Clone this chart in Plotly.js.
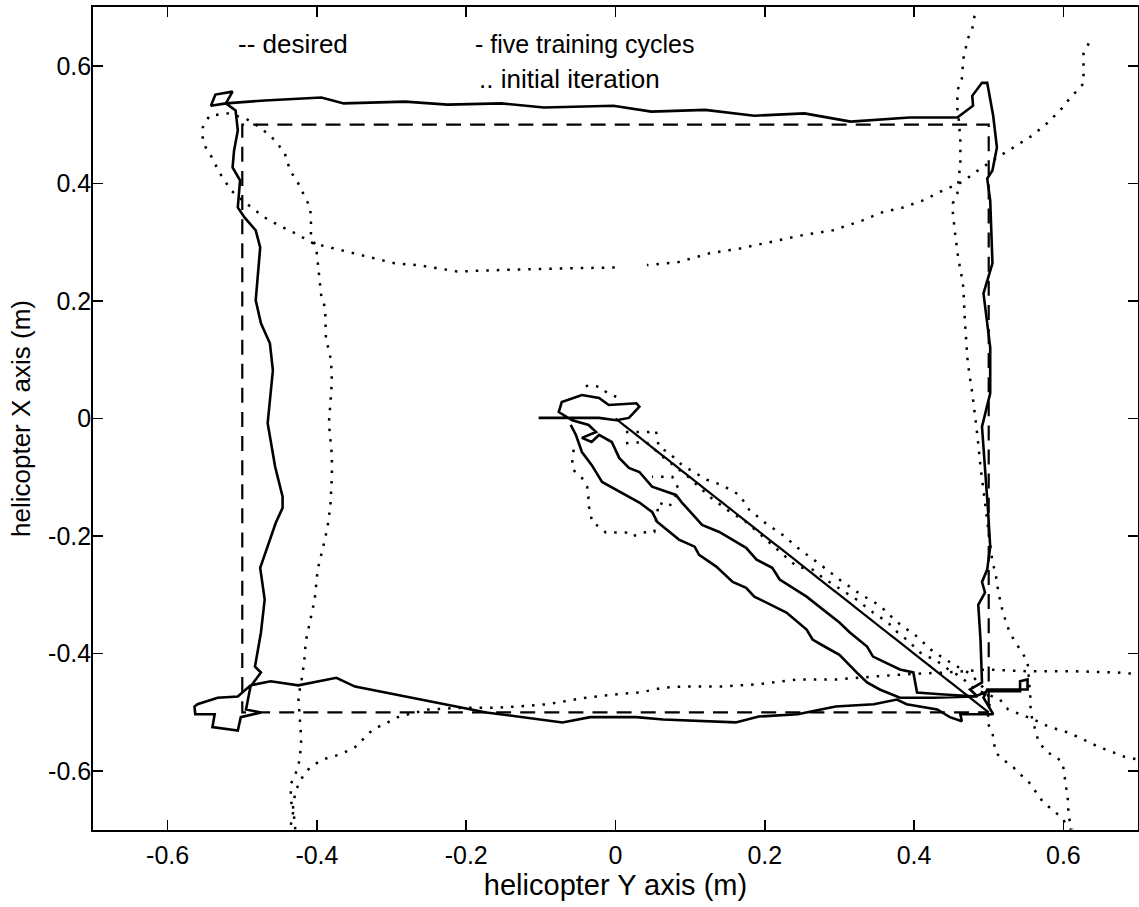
<!DOCTYPE html>
<html>
<head>
<meta charset="utf-8">
<script src="https://cdn.plot.ly/plotly-3.0.1.min.js"></script>
<style>html,body{margin:0;padding:0;background:#fff;}#chart{width:1139px;height:907px;}</style>
</head>
<body>
<div id="chart"></div>
<script>
// ---- data (helicopter X/Y positions, metres) ----
const tickVals = [-0.6, -0.4, -0.2, 0, 0.2, 0.4, 0.6];
const tickText = ["-0.6", "-0.4", "-0.2", "0", "0.2", "0.4", "0.6"];

// desired trajectory (dashed)
const desiredX = [0, 0.5, 0.5, -0.5, -0.5, 0.5, 0];
const desiredY = [0, -0.5, 0.5, 0.5, -0.5, -0.5, 0];

// five training cycles (solid)
const solidX = [-0.103,-0.058,-0.022,0.001,0.018,0.032,0.028,-0.009,-0.022,-0.045,
-0.072,-0.076,-0.058,-0.036,-0.026,-0.045,-0.032,-0.022,-0.005,0.005,
0.018,0.032,0.049,0.081,0.089,0.116,0.139,0.175,0.189,0.210,
0.220,0.256,0.300,0.314,0.337,0.345,0.381,0.399,0.404,0.435,
0.479,0.485,0.475,0.491,0.489,0.486,0.495,0.491,0.498,0.502,
0.499,0.491,0.502,0.502,0.493,0.505,0.502,0.498,0.505,0.511,
0.506,0.502,0.498,0.491,0.478,0.479,0.458,0.394,0.315,0.253,
0.186,0.120,0.048,-0.003,-0.096,-0.153,-0.225,-0.282,-0.364,-0.394,
-0.425,-0.470,-0.522,-0.542,-0.536,-0.513,-0.522,-0.509,-0.506,-0.511,
-0.513,-0.503,-0.506,-0.497,-0.482,-0.476,-0.482,-0.475,-0.463,-0.459,
-0.466,-0.456,-0.446,-0.446,-0.455,-0.476,-0.470,-0.475,-0.483,-0.475,
-0.489,-0.495,-0.475,-0.502,-0.506,-0.540,-0.537,-0.563,-0.564,-0.560,
-0.533,-0.506,-0.489,-0.462,-0.425,-0.374,-0.349,-0.271,-0.173,-0.071,
-0.034,0.028,0.064,0.161,0.192,0.244,0.295,0.346,0.377,0.390,
0.431,0.448,0.464,0.462,0.493,0.506,0.493,0.498,0.552,0.552,
0.542,0.542,0.498,0.482,0.425,0.381,0.354,0.337,0.323,0.300,
0.283,0.264,0.256,0.229,0.186,0.175,0.157,0.135,0.112,0.106,
0.085,0.056,0.049,0.032,-0.018,-0.032,-0.045,-0.053,-0.060];
const solidY = [0.001,0.001,0.001,-0.003,0.001,0.020,0.026,0.023,0.035,0.040,
0.028,0.011,-0.003,-0.011,-0.023,-0.033,-0.040,-0.028,-0.040,-0.067,
-0.084,-0.091,-0.116,-0.130,-0.143,-0.181,-0.193,-0.220,-0.240,-0.254,
-0.274,-0.303,-0.347,-0.364,-0.388,-0.405,-0.427,-0.432,-0.466,-0.469,
-0.473,-0.473,-0.461,-0.449,-0.376,-0.317,-0.296,-0.278,-0.257,-0.218,
-0.155,-0.014,0.043,0.121,0.213,0.264,0.371,0.408,0.422,0.461,
0.515,0.546,0.571,0.571,0.549,0.532,0.512,0.512,0.505,0.519,
0.515,0.525,0.522,0.532,0.529,0.536,0.534,0.539,0.536,0.546,
0.544,0.541,0.536,0.532,0.551,0.556,0.536,0.524,0.490,0.456,
0.427,0.405,0.359,0.342,0.320,0.291,0.201,0.162,0.128,0.082,
-0.008,-0.082,-0.133,-0.152,-0.177,-0.254,-0.308,-0.364,-0.422,-0.432,
-0.456,-0.495,-0.500,-0.508,-0.531,-0.525,-0.503,-0.503,-0.490,-0.486,
-0.475,-0.473,-0.454,-0.447,-0.454,-0.441,-0.456,-0.475,-0.500,-0.517,
-0.508,-0.508,-0.512,-0.517,-0.507,-0.503,-0.490,-0.486,-0.478,-0.486,
-0.495,-0.508,-0.515,-0.503,-0.503,-0.503,-0.475,-0.461,-0.461,-0.444,
-0.447,-0.464,-0.464,-0.473,-0.475,-0.475,-0.461,-0.449,-0.432,-0.402,
-0.390,-0.376,-0.359,-0.330,-0.303,-0.288,-0.278,-0.252,-0.232,-0.218,
-0.206,-0.176,-0.159,-0.143,-0.108,-0.079,-0.057,-0.028,-0.011];

// initial iteration (dotted); null separates the visible pieces
const initialX = [
0.634,0.627,0.627,0.627,0.627,0.607,0.599,0.579,0.558,0.533,0.515,0.489,0.464,0.439,0.412,0.385,0.358,0.331,0.291,0.251,0.208,0.166,0.126,0.084,0.042,null,
-0.001,-0.065,-0.116,-0.169,-0.212,-0.240,-0.265,-0.296,-0.322,-0.351,-0.377,-0.405,-0.429,-0.452,-0.470,-0.497,-0.515,-0.530,-0.542,-0.549,-0.553,-0.553,-0.544,-0.519,-0.495,-0.476,-0.456,-0.443,-0.436,-0.425,-0.417,-0.409,-0.408,-0.408,-0.401,-0.399,-0.397,-0.394,-0.389,-0.388,-0.381,-0.380,-0.382,-0.384,-0.380,-0.380,-0.382,-0.386,-0.392,-0.399,-0.403,-0.409,-0.415,-0.417,-0.421,-0.425,-0.423,-0.421,-0.423,-0.428,-0.435,-0.435,-0.432,-0.436,null,
0.481,0.478,0.472,0.466,0.464,0.459,0.458,0.458,0.460,0.462,0.462,0.458,0.452,0.452,0.455,0.459,0.464,0.466,0.468,0.472,0.478,0.482,0.485,0.489,0.493,0.498,0.499,0.505,0.509,0.513,0.519,0.528,0.536,0.552,0.553,0.556,0.556,0.560,0.567,0.579,0.589,0.599,0.603,0.606,0.607,0.612,null,
-0.429,-0.432,-0.429,-0.423,-0.415,-0.408,-0.392,-0.368,-0.349,-0.338,-0.325,-0.302,-0.290,-0.251,-0.204,-0.163,-0.132,-0.091,-0.065,-0.040,0.002,0.033,0.064,0.089,0.140,0.192,0.244,0.295,0.346,0.390,0.444,0.498,0.552,0.614,0.673,0.700,null,
0.001,-0.011,-0.019,-0.033,-0.049,null,
-0.056,-0.058,-0.057,-0.045,-0.038,-0.036,-0.038,-0.033,-0.032,-0.022,-0.013,0.001,0.014,0.022,0.036,0.052,0.054,0.058,0.072,0.085,0.076,0.058,0.049,null,
0.014,0.032,0.045,0.054,0.058,0.072,0.089,0.122,0.142,0.166,0.179,0.202,0.224,0.247,0.276,0.300,0.327,0.354,0.377,0.404,0.425,0.451,0.475,0.495,0.502,0.498,0.505,0.509,0.519,0.532,0.542,0.553,0.565,0.573,0.585,0.596,0.610,null,
0.014,0.032,0.041,0.065,0.099,0.126,0.149,0.175,0.206,0.243,0.264,0.278,0.296,0.323,0.345,0.364,0.378,0.390,0.408,0.431,0.446,0.462,0.482,0.515,0.526,0.542,0.560,0.580,0.606,0.632,0.646,0.667,0.681,0.700];
const initialY = [
0.638,0.621,0.604,0.587,0.570,0.542,0.529,0.503,0.481,0.461,0.447,0.425,0.402,0.388,0.371,0.359,0.351,0.337,0.320,0.312,0.300,0.289,0.281,0.266,0.261,null,
0.257,0.256,0.254,0.252,0.250,0.256,0.261,0.264,0.272,0.281,0.289,0.298,0.315,0.329,0.342,0.368,0.388,0.417,0.447,0.461,0.473,0.495,0.515,0.519,0.510,0.495,0.473,0.451,0.422,0.400,0.379,0.359,0.337,0.312,0.291,0.269,0.239,0.206,0.189,0.137,0.099,0.062,0.026,-0.008,-0.062,-0.099,-0.150,-0.186,-0.220,-0.257,-0.308,-0.342,-0.379,-0.413,-0.449,-0.473,-0.517,-0.546,-0.580,-0.602,-0.622,-0.648,-0.670,-0.699,null,
0.685,0.663,0.646,0.612,0.578,0.561,0.544,0.527,0.507,0.473,0.435,0.383,0.366,0.349,0.315,0.274,0.240,0.223,0.167,0.094,0.043,0.006,-0.031,-0.082,-0.121,-0.172,-0.189,-0.245,-0.262,-0.296,-0.330,-0.364,-0.381,-0.413,-0.430,-0.478,-0.500,-0.517,-0.551,-0.568,-0.575,-0.585,-0.619,-0.648,-0.677,-0.699,null,
-0.699,-0.660,-0.636,-0.617,-0.602,-0.592,-0.580,-0.571,-0.559,-0.546,-0.529,-0.515,-0.507,-0.495,-0.492,-0.492,-0.490,-0.486,-0.481,-0.475,-0.469,-0.466,-0.458,-0.456,-0.456,-0.452,-0.444,-0.444,-0.439,-0.435,-0.432,-0.427,-0.430,-0.430,-0.432,-0.435,null,
0.037,0.043,0.053,0.057,0.052,null,
-0.053,-0.070,-0.087,-0.101,-0.116,-0.133,-0.143,-0.159,-0.176,-0.184,-0.194,-0.194,-0.194,-0.201,-0.194,-0.193,-0.177,-0.143,-0.150,-0.121,-0.099,-0.099,-0.099,null,
-0.023,-0.023,-0.023,-0.020,-0.048,-0.059,-0.079,-0.104,-0.113,-0.130,-0.155,-0.179,-0.198,-0.223,-0.250,-0.274,-0.298,-0.318,-0.346,-0.371,-0.396,-0.417,-0.434,-0.461,-0.478,-0.517,-0.534,-0.568,-0.580,-0.592,-0.605,-0.617,-0.639,-0.653,-0.665,-0.677,-0.699,null,
-0.042,-0.040,-0.040,-0.067,-0.101,-0.133,-0.155,-0.176,-0.211,-0.252,-0.257,-0.271,-0.286,-0.308,-0.330,-0.346,-0.364,-0.376,-0.398,-0.413,-0.427,-0.439,-0.461,-0.478,-0.495,-0.503,-0.512,-0.524,-0.534,-0.549,-0.558,-0.568,-0.575,-0.580];

const labelTexts = ["-- desired", "- five training cycles", ".. initial iteration"];

// ---- chart ----
const FONT = "Liberation Sans, Arial, Helvetica, sans-serif";
const traces = [
  {x: initialX, y: initialY, type: "scatter", mode: "lines", connectgaps: false,
   line: {color: "#000", width: 2.5, dash: "2.5px,8px"}, hoverinfo: "skip"},
  {x: desiredX, y: desiredY, type: "scatter", mode: "lines",
   line: {color: "#000", width: 2.2, dash: "15px,9.1px"}, hoverinfo: "skip"},
  {x: solidX, y: solidY, type: "scatter", mode: "lines",
   line: {color: "#000", width: 2.6}, hoverinfo: "skip"}
];

const axisBase = {
  range: [-0.7, 0.7], tickmode: "array", tickvals: tickVals, ticktext: tickText,
  ticks: "inside", ticklen: 10, tickwidth: 1.6, tickcolor: "#000",
  showline: true, linecolor: "#000", linewidth: 1.8, mirror: "ticks",
  showgrid: false, zeroline: false, fixedrange: true,
  tickfont: {family: FONT, size: 25, color: "#000"}
};

const layout = {
  width: 1139, height: 907,
  margin: {l: 93, r: 1, t: 7, b: 77},
  paper_bgcolor: "#fff", plot_bgcolor: "#fff",
  showlegend: false,
  font: {family: FONT, size: 25, color: "#000"},
  xaxis: Object.assign({}, axisBase, {
    ticklabelstandoff: 2,
    title: {text: "helicopter Y axis (m)", font: {family: FONT, size: 29, color: "#000"}, standoff: 3}
  }),
  yaxis: Object.assign({}, axisBase, {
    ticklabelstandoff: -5,
    title: {text: "helicopter X axis (m)", font: {family: FONT, size: 26, color: "#000"}, standoff: 10}
  }),
  annotations: [
    {text: labelTexts[0], x: -0.508, y: 0.637, xref: "x", yref: "y", xanchor: "left", yanchor: "middle", showarrow: false, font: {family: FONT, size: 26}},
    {text: labelTexts[1], x: -0.191, y: 0.637, xref: "x", yref: "y", xanchor: "left", yanchor: "middle", showarrow: false, font: {family: FONT, size: 25}},
    {text: labelTexts[2], x: -0.186, y: 0.578, xref: "x", yref: "y", xanchor: "left", yanchor: "middle", showarrow: false, font: {family: FONT, size: 26}}
  ]
};

Plotly.newPlot("chart", traces, layout, {staticPlot: true, displayModeBar: false});
</script>
</body>
</html>
